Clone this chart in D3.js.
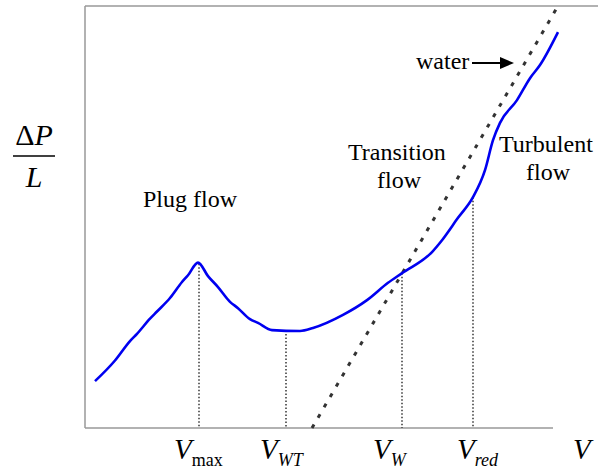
<!DOCTYPE html>
<html>
<head>
<meta charset="utf-8">
<script src="https://cdn.jsdelivr.net/npm/d3@7"></script>
<style>
  body { margin: 0; background: #fff; }
</style>
</head>
<body>
<svg id="chart" font-family="Liberation Serif, DejaVu Serif, serif"></svg>
<script>
// slurry curve, V in arbitrary units vs pressure gradient
var curveV  = [2, 6, 9, 10.4, 13, 14.4, 17, 19.4, 20.6, 22.6, 24.6, 26.6, 29, 30.6, 33, 34.6, 37.4, 43, 45.6, 51.6, 56.4, 60.6, 63.4, 69.4, 71.4, 74.6, 77.6, 80, 81.6, 83, 86.4, 89, 91, 94.6];
var curveDP = [11.1, 16.0, 20.6, 22.3, 25.9, 27.6, 30.8, 34.6, 36.2, 39.2, 36, 33.4, 29.9, 28.4, 25.8, 24.9, 23.2, 23, 23.7, 26.8, 30.3, 34.4, 36.7, 41.7, 44.5, 49.8, 54.7, 61.1, 68.2, 72.3, 77.7, 82.9, 86, 93.8];

// water line (straight)
var waterV  = [45.4, 94.6];
var waterDP = [0, 100];

// marker velocities
var markerNames = ["max", "WT", "W", "red"];
var markerV     = [22.8, 40.2, 63.4, 77.6];
var markerDP    = [38.9, 23.1, 36.7, 54.7];

var width = 598, height = 469;
var margins = { top: 6, bottom: 41, left: 85, right: 13 };

var svg = d3.select("#chart").attr("width", width).attr("height", height);

var xScale = d3.scaleLinear().domain([0, 100]).range([margins.left, width - margins.right]);
var yScale = d3.scaleLinear().domain([0, 100]).range([height - margins.bottom, margins.top]);

var y0 = yScale(0), yTop = yScale(100);

// frame
svg.append("line").attr("x1", xScale(0)).attr("x2", xScale(0)).attr("y1", yTop).attr("y2", y0)
   .attr("stroke", "#999").attr("stroke-width", 1.5);
svg.append("line").attr("x1", xScale(0)).attr("x2", width).attr("y1", yTop).attr("y2", yTop)
   .attr("stroke", "#999").attr("stroke-width", 1.5);
svg.append("line").attr("x1", xScale(0)).attr("x2", xScale(93.6)).attr("y1", y0).attr("y2", y0)
   .attr("stroke", "#999").attr("stroke-width", 1.5);

// marker verticals
svg.selectAll(".marker").data(markerV).enter().append("line")
   .attr("class", "marker")
   .attr("x1", function(d){ return xScale(d); })
   .attr("x2", function(d){ return xScale(d); })
   .attr("y1", function(d, i){ return yScale(markerDP[i]); })
   .attr("y2", y0)
   .attr("stroke", "#000").attr("stroke-width", 1.2)
   .attr("stroke-dasharray", "1.5,2");

// water
var water = waterV.map(function(d, i){ return [d, waterDP[i]]; });
svg.append("path")
   .attr("d", d3.line().x(function(d){ return xScale(d[0]); }).y(function(d){ return yScale(d[1]); })(water))
   .attr("fill", "none").attr("stroke", "#333").attr("stroke-width", 3)
   .attr("stroke-dasharray", "4,8");

// slurry curve
var pts = curveV.map(function(d, i){ return [d, curveDP[i]]; });
var line = d3.line()
   .x(function(d){ return xScale(d[0]); })
   .y(function(d){ return yScale(d[1]); })
   .curve(d3.curveMonotoneX);
svg.append("path").attr("d", line(pts))
   .attr("fill", "none").attr("stroke", "#0000f0").attr("stroke-width", 2.6)
   .attr("stroke-linejoin", "round");

// region labels
function label(txt, x, y){
  svg.append("text").attr("x", x).attr("y", y).attr("font-size", 24).text(txt);
}
label("Plug flow", 143, 207);
label("Transition", 348, 160);
label("flow", 377, 188);
label("Turbulent", 499, 152);
label("flow", 526, 180);
label("water", 416, 69);

// arrow
svg.append("line").attr("x1", 472).attr("x2", 502).attr("y1", 63).attr("y2", 63)
   .attr("stroke", "#000").attr("stroke-width", 2);
svg.append("path").attr("d", "M500,57 L514,63 L500,69 Z").attr("fill", "#000");

// y label
svg.append("text").attr("x", 34).attr("y", 145).attr("text-anchor", "middle").attr("font-size", 30)
   .html('\u0394<tspan font-style="italic">P</tspan>');
svg.append("line").attr("x1", 13).attr("x2", 55).attr("y1", 156).attr("y2", 156)
   .attr("stroke", "#000").attr("stroke-width", 1.3);
svg.append("text").attr("x", 34).attr("y", 187).attr("text-anchor", "middle").attr("font-size", 30)
   .attr("font-style", "italic").text("L");

// V labels
var offs = [-25, -26, -29, -16];
markerNames.forEach(function(n, i){
  var t = svg.append("text").attr("x", xScale(markerV[i]) + offs[i]).attr("y", 459);
  t.append("tspan").attr("font-size", 29).attr("font-style", "italic").text("V");
  t.append("tspan").attr("font-size", 18).attr("dy", 7)
   .attr("font-style", n === "max" ? "normal" : "italic").text(n);
});
svg.append("text").attr("x", 573).attr("y", 459).attr("font-size", 29).attr("font-style", "italic").text("V");
</script>
</body>
</html>
